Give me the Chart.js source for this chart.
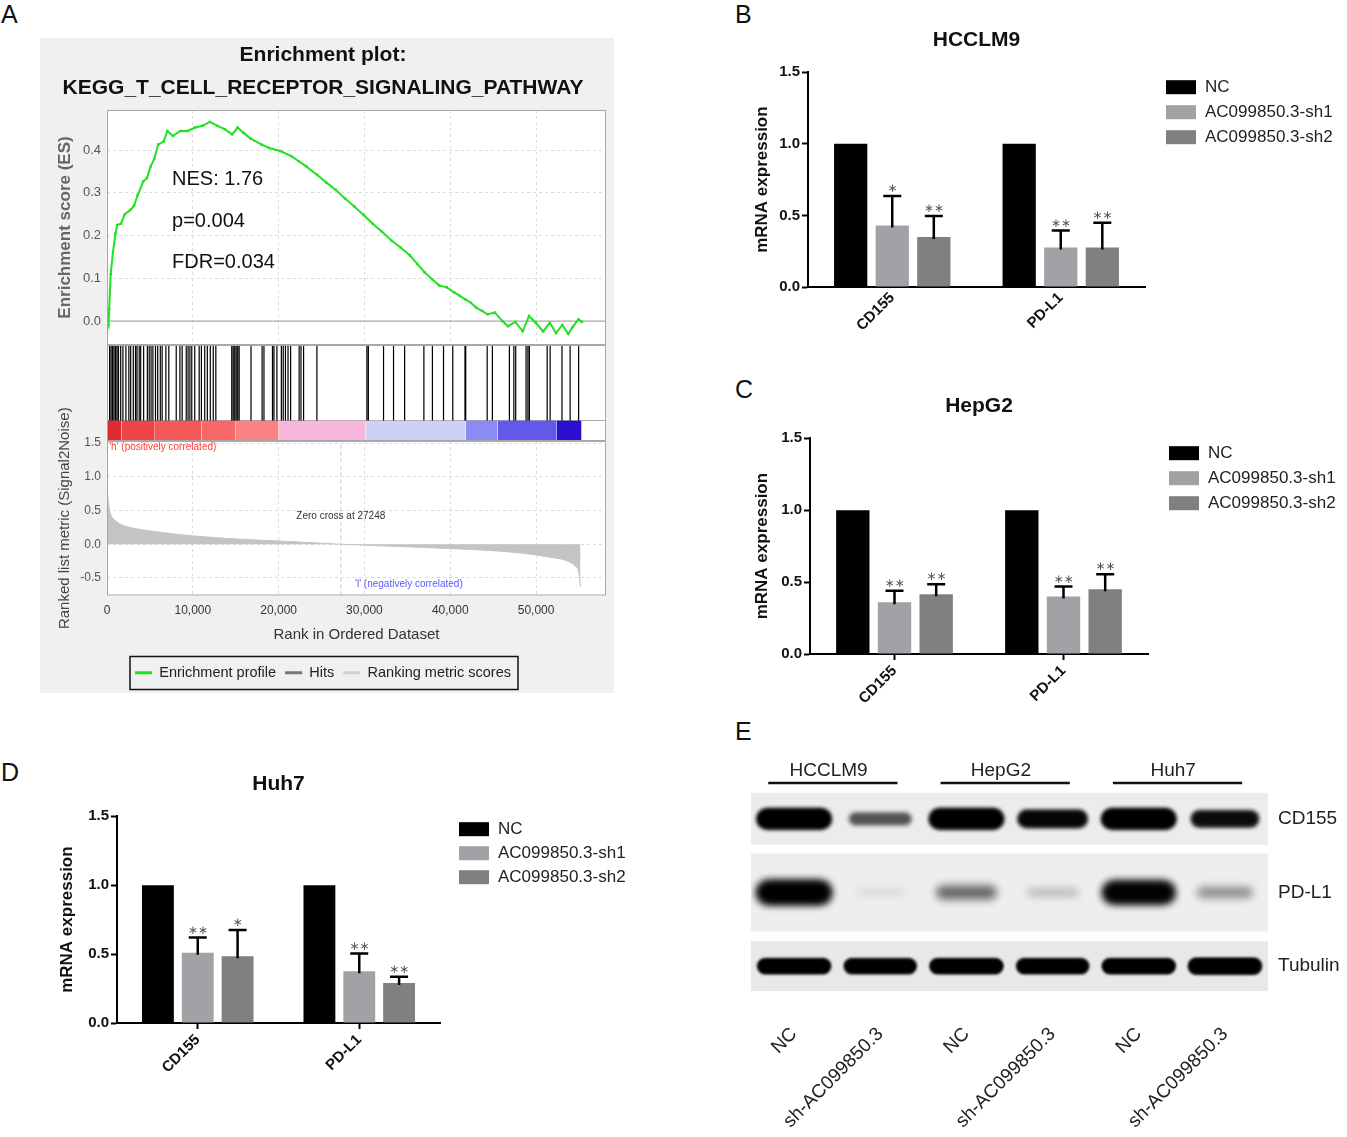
<!DOCTYPE html>
<html>
<head>
<meta charset="utf-8">
<title>AC099850.3 figure</title>
<style>
  body { margin: 0; width: 1347px; height: 1137px; position: relative; overflow: hidden; background: #fff;
         font-family: "Liberation Sans", Arial, sans-serif; }
  canvas { position: absolute; }
  .gsea-bg { position: absolute; left: 40px; top: 38px; width: 574px; height: 655px; background: #f0f0f0; }
  .tag { position: absolute; font-size: 25px; line-height: 1; color: #111; }
</style>
</head>
<body>
<div class="gsea-bg"></div>
<div class="tag" style="left:1px;top:2px">A</div>
<div class="tag" style="left:735px;top:2px">B</div>
<div class="tag" style="left:735px;top:377px">C</div>
<div class="tag" style="left:1px;top:760px">D</div>
<div class="tag" style="left:735px;top:719px">E</div>

<canvas id="es" width="574" height="323" style="left:40px;top:38px"></canvas>
<canvas id="hits" width="574" height="96" style="left:40px;top:345px"></canvas>
<canvas id="rank" width="574" height="298" style="left:40px;top:395px"></canvas>
<canvas id="hcclm9" width="602" height="327" style="left:745px;top:20px"></canvas>
<canvas id="hepg2" width="602" height="328" style="left:745px;top:386px"></canvas>
<canvas id="huh7" width="650" height="319" style="left:50px;top:764px"></canvas>
<canvas id="blot" width="607" height="392" style="left:740px;top:745px"></canvas>

<script src="https://cdn.jsdelivr.net/npm/chart.js"></script>
<script>
// ---------- A: GSEA enrichment plot ----------
var esRank = [0, 170, 260, 430, 690, 990, 1200, 1640, 2070, 2720, 3150, 3580, 4230, 4660, 5090, 5520, 5950,
  6600, 7030, 7680, 8540, 9400, 10270, 11130, 11990, 12860, 13720, 14580, 15230, 15880, 16740, 18030, 18900,
  20190, 21480, 22350, 23210, 24500, 25580, 26660, 27740, 28820, 29900, 30970, 32050, 33130, 34210, 35290,
  36150, 37010, 37880, 38740, 39600, 40470, 41110, 41760, 42400, 43050, 43700, 44350, 45210, 46070, 46720,
  47580, 48450, 49180, 49960, 50820, 51600, 52330, 53060, 53750, 54270, 54920, 55350];
var esScore = [0, -0.01, 0.028, 0.11, 0.16, 0.205, 0.225, 0.228, 0.25, 0.26, 0.27, 0.295, 0.327, 0.335, 0.362, 0.38, 0.413,
  0.42, 0.445, 0.433, 0.445, 0.445, 0.453, 0.457, 0.466, 0.457, 0.449, 0.437, 0.453, 0.441, 0.427, 0.413, 0.405,
  0.398, 0.386, 0.374, 0.362, 0.342, 0.324, 0.307, 0.287, 0.268, 0.248, 0.228, 0.209, 0.189, 0.172, 0.154,
  0.134, 0.114, 0.098, 0.083, 0.079, 0.067, 0.059, 0.051, 0.043, 0.031, 0.024, 0.016, 0.02, 0, -0.012,
  -0.002, -0.024, 0.012, -0.004, -0.024, -0.004, -0.028, -0.009, -0.03, -0.014, 0.004, -0.002];

var hitRanks = [302, 475, 647, 820, 992, 1165, 1337, 1596, 1855, 2200, 2545, 2761, 3063, 3322, 3494, 3753, 3926,
  4271, 4702, 4918, 5134, 5349, 5651, 5910, 6212, 6428, 6860, 7204, 8067, 8499, 8758, 9232, 9448, 9663, 9879,
  10224, 10742, 11001, 11389, 11691, 12036, 12381, 12683, 14538, 14711, 14884, 15056, 15229, 15401, 16782,
  18076, 18292, 19284, 19456, 19801, 20319, 20535, 20794, 21096, 21398, 22390, 22606, 22908, 24461, 30285,
  30457, 32226, 33391, 34685, 36928, 37920, 39215, 40293, 41717, 41803, 44305, 44909, 46894, 47411, 47627,
  48835, 49051, 49224, 51294, 51639, 53020, 53969, 54961];

var metricRank = [0, 173, 388, 820, 1682, 2977, 5134, 7291, 9448, 13762, 18076, 22390, 27248, 31018, 35332,
  39646, 43960, 48274, 51726, 53451, 54530, 54961, 55177];
var metricScore = [0.85, 0.61, 0.46, 0.37, 0.29, 0.24, 0.195, 0.16, 0.13, 0.088, 0.058, 0.034, 0, -0.02, -0.04,
  -0.063, -0.088, -0.13, -0.195, -0.24, -0.32, -0.41, -0.63];
var zeroCross = 27248;

var colorEdges = [0, 1700, 5500, 11000, 15000, 20000, 30100, 41800, 45500, 52400, 55300];
var colorBands = ['#df2a31', '#ee4446', '#f45757', '#f76868', '#fa8282', '#f8b8de', '#cfd0f6', '#8b8bf4',
  '#6259ea', '#2c10cf'];

var rankTicks = [0, 10000, 20000, 30000, 40000, 50000];
var esTicks = [0, 0.1, 0.2, 0.3, 0.4];
var metricTicks = [-0.5, 0, 0.5, 1, 1.5];
var esStats = ['NES: 1.76', 'p=0.004', 'FDR=0.034'];
var gseaLegend = ['Enrichment profile', 'Hits', 'Ranking metric scores'];
var gseaLegendColors = ['#22e022', '#777777', '#d0d0d0'];

// ---------- B-D: qPCR bars ----------
var genes = ['CD155', 'PD-L1'];
var groups = ['NC', 'AC099850.3-sh1', 'AC099850.3-sh2'];

var hcclm9NC = [1.0, 1.0];
var hcclm9Sh1 = [0.43, 0.275];
var hcclm9Sh2 = [0.35, 0.275];
var hcclm9Sh1Sd = [0.205, 0.12];
var hcclm9Sh2Sd = [0.145, 0.173];
var hcclm9Sh1Sig = ['*', '**'];
var hcclm9Sh2Sig = ['**', '**'];

var hepg2NC = [1.0, 1.0];
var hepg2Sh1 = [0.36, 0.40];
var hepg2Sh2 = [0.415, 0.45];
var hepg2Sh1Sd = [0.08, 0.07];
var hepg2Sh2Sd = [0.07, 0.105];
var hepg2Sh1Sig = ['**', '**'];
var hepg2Sh2Sig = ['**', '**'];

var huh7NC = [1.0, 1.0];
var huh7Sh1 = [0.51, 0.375];
var huh7Sh2 = [0.485, 0.29];
var huh7Sh1Sd = [0.11, 0.13];
var huh7Sh2Sd = [0.19, 0.046];
var huh7Sh1Sig = ['**', '**'];
var huh7Sh2Sig = ['*', '**'];

// ---------- E: western blot band intensity (0-1) ----------
var lanes = ['NC', 'sh-AC099850.3', 'NC', 'sh-AC099850.3', 'NC', 'sh-AC099850.3'];
var cellLines = ['HCCLM9', 'HepG2', 'Huh7'];
var blotRows = ['CD155', 'PD-L1', 'Tubulin'];
var cd155Band = [1.0, 0.62, 1.0, 0.82, 1.0, 0.75];
var pdl1Band = [0.95, 0.12, 0.55, 0.25, 0.9, 0.4];
var tubulinBand = [0.95, 0.92, 0.96, 0.93, 0.96, 0.97];

var ARIAL = '"Liberation Sans", Arial, sans-serif';
Chart.defaults.font.family = ARIAL;
Chart.defaults.color = '#222';
Chart.defaults.animation = false;
Chart.defaults.responsive = false;
Chart.defaults.plugins.tooltip.enabled = false;

var RANK_MAX = 58150;
var CB_TOP = 0.21;

// white plot area with a grey frame
var frame = {
  id: 'frame',
  defaults: { on: false },
  beforeDraw: function (chart, args, o) {
    if (!o.on) return;
    var a = chart.chartArea, ctx = chart.ctx;
    ctx.save();
    ctx.fillStyle = '#fff';
    ctx.fillRect(a.left, a.top, a.width, a.height);
    ctx.restore();
  },
  afterDraw: function (chart, args, o) {
    if (!o.on) return;
    var a = chart.chartArea, ctx = chart.ctx;
    ctx.save();
    ctx.strokeStyle = '#a8a8a8';
    ctx.lineWidth = 1;
    ctx.strokeRect(a.left + 0.5, a.top + 0.5, a.width - 1, a.height - 1);
    ctx.restore();
  }
};

// text placed at data coordinates
var notes = {
  id: 'notes',
  defaults: { items: [] },
  afterDatasetsDraw: function (chart, args, o) {
    var ctx = chart.ctx;
    o.items.forEach(function (n) {
      ctx.save();
      ctx.font = n.font;
      ctx.fillStyle = n.color || '#000';
      ctx.textAlign = n.align || 'left';
      ctx.textBaseline = 'middle';
      ctx.fillText(n.text, chart.scales.x.getPixelForValue(n.x), chart.scales.y.getPixelForValue(n.y));
      ctx.restore();
    });
  }
};

Chart.register(frame, notes);

function xy(xs, ys) {
  return xs.map(function (x, i) { return { x: x, y: ys[i] }; });
}
function fixedTicks(list) {
  return function (s) { s.ticks = list.map(function (v) { return { value: v }; }); };
}
function rankAxis(extra) {
  var ax = {
    type: 'linear', min: 0, max: RANK_MAX,
    ticks: { display: false },
    grid: { color: '#dcdcdc', drawTicks: false },
    border: { display: false, dash: [3, 3] },
    afterBuildTicks: fixedTicks(rankTicks),
    afterFit: function (s) { s.height = 0; }
  };
  return Object.assign(ax, extra || {});
}

// enrichment score
new Chart(document.getElementById('es'), {
  type: 'line',
  data: {
    datasets: [
      { data: xy(esRank, esScore), borderColor: '#22e022', backgroundColor: '#22e022', borderWidth: 2,
        pointRadius: 1.7, pointStyle: 'rect', pointBorderWidth: 0 },
      { data: [{ x: 0, y: 0 }, { x: RANK_MAX, y: 0 }], borderColor: '#9a9a9a', borderWidth: 1, pointRadius: 0 }
    ]
  },
  options: {
    layout: { padding: { right: 8, bottom: 16 } },
    plugins: {
      legend: { display: false },
      title: { display: true, text: ['Enrichment plot:', 'KEGG_T_CELL_RECEPTOR_SIGNALING_PATHWAY'],
        font: { size: 21, weight: 'bold', lineHeight: 1.571 }, color: '#111', padding: { top: 1, bottom: 5 } },
      frame: { on: true },
      notes: { items: esStats.map(function (t, i) {
        return { text: t, x: 7580, y: [0.332, 0.234, 0.138][i], font: '20px ' + ARIAL, color: '#111' };
      }) }
    },
    scales: {
      x: rankAxis(),
      y: {
        min: -0.056, max: 0.494,
        ticks: { color: '#555', font: { size: 13 }, padding: 6, callback: function (v) { return v.toFixed(1); } },
        grid: { color: '#dcdcdc', drawTicks: false },
        border: { display: false, dash: [3, 3] },
        title: { display: true, text: 'Enrichment score (ES)', color: '#666', font: { size: 17, weight: 'bold' },
          padding: { top: 15 } },
        afterBuildTicks: fixedTicks(esTicks),
        afterFit: function (s) { s.width = 67; }
      }
    }
  }
});

// hits and the ranked-list colour bar
var hitSegments = [];
hitRanks.forEach(function (h) {
  hitSegments.push({ x: h, y: CB_TOP }, { x: h, y: 1 }, { x: h, y: null });
});
var barSets = colorBands.map(function (c, i) {
  return { data: [{ x: colorEdges[i], y: CB_TOP }, { x: colorEdges[i + 1], y: CB_TOP }], fill: 'origin',
    backgroundColor: c, borderWidth: 0, pointRadius: 0 };
});
new Chart(document.getElementById('hits'), {
  type: 'line',
  data: {
    datasets: barSets.concat([{ data: hitSegments, borderColor: '#000', borderWidth: 1.2, pointRadius: 0,
      spanGaps: false }])
  },
  options: {
    layout: { padding: { right: 8 } },
    plugins: { legend: { display: false }, frame: { on: true } },
    scales: {
      x: rankAxis({ grid: { display: false } }),
      y: {
        min: 0, max: 1,
        ticks: { display: false },
        grid: { color: '#a8a8a8', drawTicks: false },
        border: { display: false },
        afterBuildTicks: fixedTicks([CB_TOP]),
        afterFit: function (s) { s.width = 67; }
      }
    }
  }
});

// ranked list metric
var legendFrame = {
  id: 'legendFrame',
  afterDraw: function (chart) {
    var hb = chart.legend.legendHitBoxes;
    if (!hb || !hb.length) return;
    var l = Math.min.apply(null, hb.map(function (h) { return h.left; })) - 5;
    var r = Math.max.apply(null, hb.map(function (h) { return h.left + h.width; })) + 7;
    var ctx = chart.ctx;
    ctx.save();
    ctx.strokeStyle = '#111';
    ctx.lineWidth = 1.5;
    ctx.strokeRect(l, hb[0].top - 9, r - l, 33);
    ctx.restore();
  }
};
new Chart(document.getElementById('rank'), {
  type: 'line',
  data: {
    datasets: [
      { data: xy(metricRank, metricScore), fill: 'origin', backgroundColor: '#c4c4c4', borderColor: '#c4c4c4',
        borderWidth: 1, pointRadius: 0, cubicInterpolationMode: 'monotone' },
      { data: [{ x: zeroCross, y: -0.76 }, { x: zeroCross, y: 1.53 }], borderColor: '#c8c8c8', borderWidth: 1,
        borderDash: [4, 3], pointRadius: 0 }
    ]
  },
  plugins: [legendFrame],
  options: {
    layout: { padding: { top: 46, right: 8, bottom: 3 } },
    plugins: {
      frame: { on: true },
      legend: {
        position: 'bottom',
        labels: {
          usePointStyle: true, pointStyleWidth: 17, padding: 9, font: { size: 14.5 }, color: '#222',
          generateLabels: function () {
            return gseaLegend.map(function (t, i) {
              return { text: t, strokeStyle: gseaLegendColors[i], fillStyle: gseaLegendColors[i], lineWidth: 3,
                pointStyle: 'line', hidden: false, fontColor: '#222' };
            });
          }
        }
      },
      notes: { items: [
        { text: "'h' (positively correlated)", x: 250, y: 1.43, font: '10px ' + ARIAL, color: '#ff3b3b' },
        { text: 'Zero cross at ' + zeroCross, x: zeroCross, y: 0.41, font: '10px ' + ARIAL, color: '#333',
          align: 'center' },
        { text: "'l' (negatively correlated)", x: 28900, y: -0.59, font: '10px ' + ARIAL, color: '#5a5aff' }
      ] }
    },
    scales: {
      x: rankAxis({
        ticks: { display: true, color: '#333', font: { size: 12 }, padding: 8 },
        title: { display: true, text: 'Rank in Ordered Dataset', color: '#333', font: { size: 15 },
          padding: { bottom: 13 } },
        afterFit: function (s) { s.height = 61; }
      }),
      y: {
        min: -0.76, max: 1.53,
        ticks: { color: '#555', font: { size: 12 }, padding: 6, callback: function (v) { return v.toFixed(1); } },
        grid: { color: '#dcdcdc', drawTicks: false },
        border: { display: false, dash: [3, 3] },
        title: { display: true, text: 'Ranked list metric (Signal2Noise)', color: '#444', font: { size: 15 },
          padding: { top: 16 } },
        afterBuildTicks: fixedTicks(metricTicks),
        afterFit: function (s) { s.width = 67; }
      }
    }
  }
});

// ---------- bar panels ----------
// upper SD bars and significance marks
var errorBars = {
  id: 'errorBars',
  afterDatasetsDraw: function (chart) {
    var ctx = chart.ctx, y = chart.scales.y;
    chart.data.datasets.forEach(function (ds, di) {
      if (!ds.sd) return;
      chart.getDatasetMeta(di).data.forEach(function (bar, i) {
        var top = y.getPixelForValue(ds.data[i] + ds.sd[i]);
        ctx.save();
        ctx.strokeStyle = '#000';
        ctx.lineWidth = 2.5;
        ctx.beginPath();
        ctx.moveTo(bar.x, bar.y + 2);
        ctx.lineTo(bar.x, top);
        ctx.moveTo(bar.x - 9, top);
        ctx.lineTo(bar.x + 9, top);
        ctx.stroke();
        ctx.fillStyle = '#555';
        ctx.font = '12px "DejaVu Sans"';
        ctx.textAlign = 'center';
        ctx.textBaseline = 'bottom';
        ctx.fillText(ds.sig[i].replace(/\*/g, '\u2217'), bar.x, top - 1);
        ctx.restore();
      });
    });
  }
};

// legend to the right of the plot, aligned with its top
var sideLegend = {
  id: 'sideLegend',
  afterDraw: function (chart, args, o) {
    var a = chart.chartArea, ctx = chart.ctx;
    ctx.save();
    ctx.font = '17px ' + ARIAL;
    ctx.textAlign = 'left';
    ctx.textBaseline = 'middle';
    chart.data.datasets.forEach(function (ds, i) {
      var yc = a.top + o.dy + i * o.step;
      ctx.fillStyle = ds.backgroundColor;
      ctx.fillRect(a.right + o.dx, yc - 7, 30, 14);
      ctx.fillStyle = '#222';
      ctx.fillText(ds.label, a.right + o.dx + 39, yc);
    });
    ctx.restore();
  }
};

function barPanel(id, title, nc, sh1, sh2, sh1Sd, sh2Sd, sh1Sig, sh2Sig, lay) {
  new Chart(document.getElementById(id), {
    type: 'bar',
    data: {
      labels: genes,
      datasets: [
        { label: groups[0], data: nc, backgroundColor: '#000000' },
        { label: groups[1], data: sh1, sd: sh1Sd, sig: sh1Sig, backgroundColor: '#a2a2a6' },
        { label: groups[2], data: sh2, sd: sh2Sd, sig: sh2Sig, backgroundColor: '#808080' }
      ]
    },
    plugins: [errorBars, sideLegend],
    options: {
      categoryPercentage: 0.74,
      barPercentage: 0.8,
      layout: { padding: { right: lay.right } },
      plugins: {
        title: { display: true, text: title, fullSize: false, color: '#111',
          font: { size: 21, weight: 'bold' }, padding: { top: 8, bottom: 19 } },
        legend: { display: false },
        sideLegend: { dx: lay.dx, dy: lay.dy, step: lay.step }
      },
      scales: {
        x: {
          grid: { display: true, drawOnChartArea: false, offset: false, drawTicks: lay.xTicks, tickLength: 6,
            tickWidth: 2, tickColor: '#000' },
          border: { color: '#000', width: 2 },
          ticks: { minRotation: 45, maxRotation: 45, color: '#111', font: { size: 15, weight: 'bold' }, padding: 2 },
          afterFit: function (s) { s.height = 60; }
        },
        y: {
          min: 0, max: 1.5,
          ticks: { stepSize: 0.5, color: '#111', font: { size: 15, weight: 'bold' }, padding: 2,
            callback: function (v) { return v.toFixed(1); } },
          grid: { drawOnChartArea: false, tickLength: 6, tickWidth: 2, tickColor: '#000' },
          border: { color: '#000', width: 2 },
          title: { display: true, text: 'mRNA expression', color: '#111', font: { size: 17, weight: 'bold' },
            padding: { top: 7 } },
          afterFit: function (s) { s.width = lay.yw; }
        }
      }
    }
  });
}

barPanel('hcclm9', 'HCCLM9', hcclm9NC, hcclm9Sh1, hcclm9Sh2, hcclm9Sh1Sd, hcclm9Sh2Sd, hcclm9Sh1Sig, hcclm9Sh2Sig,
  { yw: 63, right: 202, dx: 21, dy: 15, step: 25, xTicks: false });
barPanel('hepg2', 'HepG2', hepg2NC, hepg2Sh1, hepg2Sh2, hepg2Sh1Sd, hepg2Sh2Sd, hepg2Sh1Sig, hepg2Sh2Sig,
  { yw: 65, right: 199, dx: 21, dy: 15, step: 25, xTicks: true });
barPanel('huh7', 'Huh7', huh7NC, huh7Sh1, huh7Sh2, huh7Sh1Sd, huh7Sh2Sd, huh7Sh1Sig, huh7Sh2Sig,
  { yw: 67, right: 260, dx: 19, dy: 13, step: 24, xTicks: true });

// ---------- E: western blot ----------
// per-row look of the film: blur radius and band thickness
var rowLook = [{ blur: 2, thick: 1 }, { blur: 4.5, thick: 1.15 }, { blur: 1.5, thick: 0.8 }];

function bandImage(v, look) {
  var w = Math.round(44 + 30 * v), h = Math.round((2 + 18 * v) * look.thick);
  var pad = Math.ceil(look.blur * 4);
  var c = document.createElement('canvas');
  c.width = w + pad * 2;
  c.height = h + pad * 2;
  var g = c.getContext('2d');
  g.filter = 'blur(' + look.blur + 'px)';
  g.fillStyle = 'rgba(0,0,0,' + Math.min(1, v * 1.05) + ')';
  g.beginPath();
  if (g.roundRect) g.roundRect(pad, pad, w, h, h / 2);
  else g.ellipse(c.width / 2, c.height / 2, w / 2, h / 2, 0, 0, Math.PI * 2);
  g.fill();
  if (v > 0.65) g.fill();
  return c;
}

var blotDecor = {
  id: 'blotDecor',
  beforeDatasetsDraw: function (chart) {
    var ctx = chart.ctx, a = chart.chartArea, y = chart.scales.y;
    var half = [26, 39, 25];
    var tint = ['#ececec', '#eeeeee', '#e8e8e8'];
    ctx.save();
    blotRows.forEach(function (r, i) {
      var yc = y.getPixelForValue(i);
      ctx.fillStyle = tint[i];
      ctx.fillRect(a.left, yc - half[i], a.width, half[i] * 2);
    });
    ctx.restore();
  },
  afterDraw: function (chart) {
    var ctx = chart.ctx, a = chart.chartArea, x = chart.scales.x;
    ctx.save();
    ctx.strokeStyle = '#111';
    ctx.lineWidth = 2.5;
    ctx.fillStyle = '#222';
    ctx.font = '19px ' + ARIAL;
    ctx.textAlign = 'center';
    ctx.textBaseline = 'middle';
    cellLines.forEach(function (name, g) {
      ctx.beginPath();
      ctx.moveTo(x.getPixelForValue(2 * g - 0.3), a.top + 1);
      ctx.lineTo(x.getPixelForValue(2 * g + 1.2), a.top + 1);
      ctx.stroke();
      ctx.fillText(name, x.getPixelForValue(2 * g + 0.4), a.top - 11);
    });
    ctx.restore();
  }
};

new Chart(document.getElementById('blot'), {
  type: 'scatter',
  data: {
    datasets: [cd155Band, pdl1Band, tubulinBand].map(function (row, r) {
      return { data: row.map(function (v, i) { return { x: i, y: r }; }),
        pointStyle: row.map(function (v) { return bandImage(v, rowLook[r]); }), pointRadius: 10 };
    })
  },
  plugins: [blotDecor],
  options: {
    layout: { padding: { left: 8, top: 37 } },
    plugins: { legend: { display: false } },
    scales: {
      x: {
        type: 'linear', min: -0.5, max: 5.5,
        grid: { display: false, drawTicks: false }, border: { display: false },
        afterBuildTicks: fixedTicks([0, 1, 2, 3, 4, 5]),
        ticks: { autoSkip: false, minRotation: 45, maxRotation: 45, color: '#222', font: { size: 19 }, padding: 20,
          callback: function (v) { return lanes[v]; } },
        afterFit: function (s) { s.height = 134; }
      },
      y: {
        type: 'linear', position: 'right', reverse: true, min: -0.5, max: 2.5,
        grid: { display: false, drawTicks: false }, border: { display: false },
        afterBuildTicks: fixedTicks([0, 1, 2]),
        ticks: { color: '#222', font: { size: 19 }, padding: 10, callback: function (v) { return blotRows[v]; } },
        afterFit: function (s) { s.width = 79; }
      }
    }
  }
});
</script>
</body>
</html>
